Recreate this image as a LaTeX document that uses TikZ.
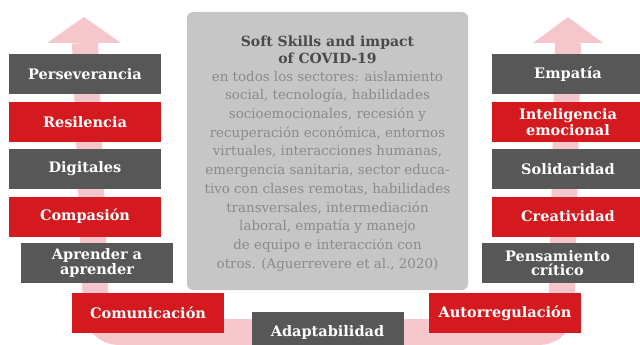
\documentclass[tikz,border=0pt]{standalone}
\usepackage{fontspec}
\setmainfont{DejaVu Serif}
\usepackage{xcolor}
\usepackage{tikz}
\usetikzlibrary{positioning}

\definecolor{rojo}{HTML}{D41A1F}
\definecolor{grisoscuro}{HTML}{575757}
\definecolor{grisclaro}{HTML}{C6C6C6}
\definecolor{rosa}{HTML}{F6C6CD}
\definecolor{textogris}{HTML}{8A8A8A}
\definecolor{titulogris}{HTML}{4A4A4A}

\tikzset{
  caja/.style={minimum width=152, minimum height=40, inner sep=1pt,
    text=white, align=center,
    font=\fontsize{14.5}{13.5}\selectfont\bfseries},
  cajaroja/.style={caja, fill=rojo},
  cajagris/.style={caja, fill=grisoscuro},
}

\begin{document}
\begin{tikzpicture}[x=1pt, y=-1pt]
    \useasboundingbox (0,0) rectangle (640,345);

    % Flecha en U (fondo)
    \draw[rosa, line width=26, rounded corners=22]
        (85,43) -- (97,332) -- (561,332) -- (568,43);
    \fill[rosa] (47,43) -- (84,17) -- (121,43) -- cycle;
    \fill[rosa] (533,43) -- (568,17) -- (603,43) -- cycle;

    % Recuadro central
    \fill[grisclaro, rounded corners=6] (187,12) rectangle (468,290);
    \node[text=titulogris, align=center,
          font=\fontsize{14}{17}\selectfont\bfseries] (titulo) at (327.5,49.5)
        {Soft Skills and impact\\of COVID-19};
    \node[text=textogris, align=center, inner sep=0pt,
          font=\fontsize{13.4}{18.7}\selectfont] (texto) at (327.5,171)
        {en todos los sectores: aislamiento\\
         social, tecnología, habilidades\\
         socioemocionales, recesión y\\
         recuperación económica, entornos\\
         virtuales, interacciones humanas,\\
         emergencia sanitaria, sector educa-\\
         tivo con clases remotas, habilidades\\
         transversales, intermediación\\
         laboral, empatía y manejo\\
         de equipo e interacción con\\
         otros. (Aguerrevere et al., 2020)};

    % Columna izquierda
    \node[cajagris] (perseverancia) at (85,74) {Perseverancia};
    \node[cajaroja] (resilencia) at (85,122) {Resilencia};
    \node[cajagris] (digitales) at (85,169) {Digitales};
    \node[cajaroja] (compasion) at (85,216.5) {Compasión};
    \node[cajagris] (aprender) at (97,263) {Aprender a\\aprender};
    \node[cajaroja] (comunicacion) at (148,313) {Comunicación};

    % Abajo
    \node[cajagris] (adaptabilidad) at (327.5,332) {Adaptabilidad};

    % Columna derecha
    \node[cajaroja] (autorregulacion) at (505,313) {Autorregulación};
    \node[cajagris] (pensamiento) at (557.5,263) {Pensamiento\\crítico};
    \node[cajaroja] (creatividad) at (568,216.5) {Creatividad};
    \node[cajagris] (solidaridad) at (568,169) {Solidaridad};
    \node[cajaroja] (inteligencia) at (568,122) {Inteligencia\\emocional};
    \node[cajagris] (empatia) at (568,74) {Empatía};
\end{tikzpicture}
\end{document}
